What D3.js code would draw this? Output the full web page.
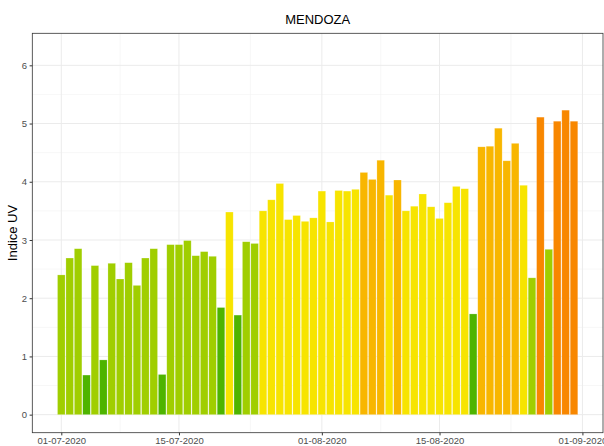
<!DOCTYPE html>
<html>
<head>
<meta charset="utf-8">
<script src="https://cdn.jsdelivr.net/npm/d3@7"></script>
<style>
  body { margin: 0; background: #fff; }
  text { font-family: "Liberation Sans", Arial, sans-serif; }
</style>
</head>
<body>
<div id="chart"></div>
<script>
// Daily UV index, Mendoza, 01-07-2020 to 31-08-2020
const firstDay = "2020-07-01";
const lastDay = "2020-08-31";
const uvValues = [
  2.40, 2.69, 2.85, 0.68, 2.56, 0.94, 2.60, 2.33, 2.61, 2.22,
  2.69, 2.85, 0.69, 2.92, 2.92, 2.99, 2.73, 2.80, 2.72, 1.84,
  3.48, 1.71, 2.97, 2.94, 3.50, 3.69, 3.97, 3.35, 3.42, 3.32,
  3.38, 3.84, 3.31, 3.85, 3.84, 3.87, 4.16, 4.04, 4.37, 3.77,
  4.03, 3.50, 3.58, 3.79, 3.57, 3.37, 3.64, 3.92, 3.88, 1.73,
  4.60, 4.61, 4.92, 4.36, 4.66, 3.94, 2.35, 5.11, 2.84, 5.04,
  5.23, 5.04
];
const yTicks = [0, 1, 2, 3, 4, 5, 6];
const xTickDates = ["2020-07-01", "2020-07-15", "2020-08-01", "2020-08-15", "2020-09-01"];
const uvBreaks = [2, 3, 4, 5];
const uvColors = ["#4eb400", "#a0ce00", "#f7e400", "#f8b600", "#f88700"];

const parse = d3.utcParse("%Y-%m-%d");
const days = d3.utcDay.range(parse(firstDay), d3.utcDay.offset(parse(lastDay), 1));
const data = days.map((d, i) => ({ date: d, uv: uvValues[i] }));

const W = 604, H = 446;
const margin = { top: 33.3, right: 1, bottom: 13.3, left: 32.3 };
const width = W - margin.left - margin.right,
      height = H - margin.top - margin.bottom;

const svg = d3.select("#chart").append("svg")
  .attr("width", W).attr("height", H);

const g = svg.append("g")
  .attr("transform", "translate(" + margin.left + "," + margin.top + ")");

// x: ggplot style expansion around the bars
const pad = 3.45 * 864e5;
const x = d3.scaleUtc()
  .domain([new Date(+days[0] - pad), new Date(+days[days.length - 1] + pad)])
  .range([0, width]);

const y = d3.scaleLinear()
  .domain([-0.31, 6.55])
  .range([height, 0]);

const color = d3.scaleThreshold().domain(uvBreaks).range(uvColors);

const dayPx = x(d3.utcDay.offset(days[0], 1)) - x(days[0]);
const barW = dayPx * 0.9;

// minor grid
const xMajor = xTickDates.map(parse);
const xMinor = d3.pairs(xMajor).map(p => new Date((+p[0] + +p[1]) / 2));
const yMinor = d3.pairs(yTicks).map(p => (p[0] + p[1]) / 2);

g.append("g").selectAll("line").data(xMinor).join("line")
  .attr("x1", d => x(d)).attr("x2", d => x(d))
  .attr("y1", 0).attr("y2", height)
  .attr("stroke", "#f2f2f2").attr("stroke-width", 0.6);
g.append("g").selectAll("line").data(yMinor).join("line")
  .attr("x1", 0).attr("x2", width)
  .attr("y1", d => y(d)).attr("y2", d => y(d))
  .attr("stroke", "#f2f2f2").attr("stroke-width", 0.6);

// major grid
g.append("g").selectAll("line").data(xMajor).join("line")
  .attr("x1", d => x(d)).attr("x2", d => x(d))
  .attr("y1", 0).attr("y2", height)
  .attr("stroke", "#ebebeb").attr("stroke-width", 1);
g.append("g").selectAll("line").data(yTicks).join("line")
  .attr("x1", 0).attr("x2", width)
  .attr("y1", d => y(d)).attr("y2", d => y(d))
  .attr("stroke", "#ebebeb").attr("stroke-width", 1);

// bars
g.append("g").selectAll("rect").data(data).join("rect")
  .attr("x", d => x(d.date) - barW / 2)
  .attr("width", barW)
  .attr("y", d => y(d.uv))
  .attr("height", d => y(0) - y(d.uv))
  .attr("fill", d => color(d.uv))
  .attr("stroke", "#ffffff")
  .attr("stroke-opacity", 0.35)
  .attr("stroke-width", 0.6);

// panel border
g.append("rect")
  .attr("width", width).attr("height", height)
  .attr("fill", "none").attr("stroke", "#333").attr("stroke-width", 0.8);

// axes
const xAxis = g.append("g")
  .attr("transform", "translate(0," + height + ")")
  .call(d3.axisBottom(x).tickValues(xMajor).tickFormat(d3.utcFormat("%d-%m-%Y"))
    .tickSize(2.7).tickPadding(2));
const yAxis = g.append("g")
  .call(d3.axisLeft(y).tickValues(yTicks).tickFormat(d3.format("d"))
    .tickSize(2.7).tickPadding(2.5));

[xAxis, yAxis].forEach(a => {
  a.select(".domain").remove();
  a.selectAll(".tick line").attr("stroke", "#333");
  a.selectAll(".tick text")
    .attr("fill", "#4d4d4d")
    .style("font-size", "9.5px")
    .style("font-family", "'Liberation Sans', Arial, sans-serif");
});

// title and axis label
svg.append("text")
  .attr("x", margin.left + width / 2)
  .attr("y", 24.3)
  .attr("text-anchor", "middle")
  .style("font-size", "13px")
  .attr("fill", "#000")
  .text("MENDOZA");

svg.append("text")
  .attr("transform", "translate(16.7," + (margin.top + height / 2) + ") rotate(-90)")
  .attr("text-anchor", "middle")
  .style("font-size", "13px")
  .attr("fill", "#000")
  .text("Indice UV");
</script>
</body>
</html>
